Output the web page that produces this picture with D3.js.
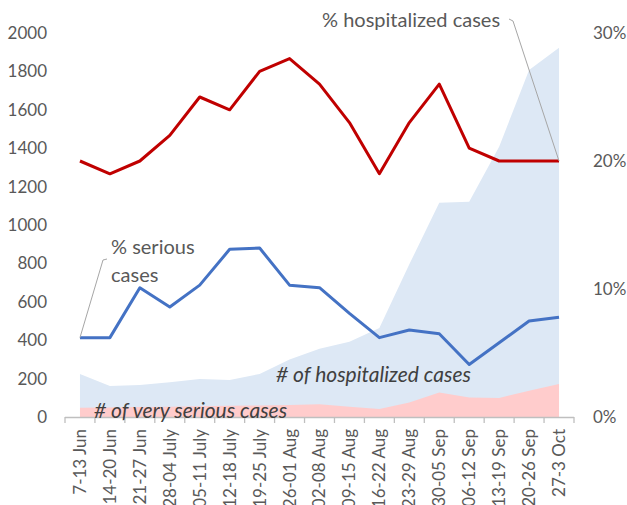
<!DOCTYPE html>
<html>
<head>
<meta charset="utf-8">
<script src="https://cdn.jsdelivr.net/npm/d3@7"></script>
<style>
  body { margin: 0; background: #fff; }
  svg { font-family: Lato, "Open Sans", sans-serif; }
  .tick text { fill: #595959; }
</style>
</head>
<body>
<script>
// weekly categories
var weeks = ["7-13 Jun", "14-20 Jun", "21-27 Jun", "28-04 July", "05-11 July", "12-18 July",
  "19-25 July", "26-01 Aug", "02-08 Aug", "09-15 Aug", "16-22 Aug", "23-29 Aug",
  "30-05 Sep", "06-12 Sep", "13-19 Sep", "20-26 Sep", "27-3 Oct"];
// counts (left axis)
var hospitalized = [224, 161, 167, 181, 198, 193, 224, 300, 355, 392, 463, 795, 1116, 1121, 1408, 1807, 1923];
var verySerious = [48, 50, 52, 54, 56, 58, 60, 62, 66, 54, 42, 75, 128, 101, 99, 137, 172];
// shares (right axis), percent
var pctHospitalized = [20, 19, 20, 22, 25, 24, 27, 28, 26, 23, 19, 23, 26, 21, 20, 20, 20];
var pctSerious = [6.2, 6.2, 10.1, 8.6, 10.3, 13.1, 13.2, 10.3, 10.1, 8.1, 6.2, 6.8, 6.5, 4.1, 5.8, 7.5, 7.8];
var leftTicks = d3.range(0, 2001, 200);
var rightTicks = [0, 10, 20, 30];

var W = 627, H = 505;
var svg = d3.select("body").append("svg").attr("width", W).attr("height", H);

var x = d3.scaleBand().domain(weeks).range([65, 574]).paddingInner(0).paddingOuter(0);
var cx = function(d){ return x(d) + x.bandwidth() / 2; };
var yL = d3.scaleLinear().domain([0, 2000]).range([417, 33]);
var yR = d3.scaleLinear().domain([0, 30]).range([417, 33]);

// areas
var areaL = function(vals){
  return d3.area()
    .x(function(d, i){ return cx(weeks[i]); })
    .y0(yL(0))
    .y1(function(d){ return yL(d); })(vals);
};
svg.append("path").attr("d", areaL(hospitalized)).attr("fill", "#DDE8F5");
svg.append("path").attr("d", areaL(verySerious)).attr("fill", "#FFCCCC");

// lines
var lineR = d3.line()
  .x(function(d, i){ return cx(weeks[i]); })
  .y(function(d){ return yR(d); });
svg.append("path").attr("d", lineR(pctHospitalized))
  .attr("fill", "none").attr("stroke", "#C00000").attr("stroke-width", 3).attr("stroke-linejoin", "round");
svg.append("path").attr("d", lineR(pctSerious))
  .attr("fill", "none").attr("stroke", "#4472C4").attr("stroke-width", 3).attr("stroke-linejoin", "round");

// left axis
var gl = svg.append("g").attr("transform", "translate(50,0)")
  .call(d3.axisLeft(yL).tickValues(leftTicks).tickSize(0).tickPadding(3).tickFormat(d3.format("d")));
gl.select(".domain").remove();
gl.selectAll("text").attr("font-size", 17).attr("font-family", "Lato, sans-serif");

// right axis
var gr = svg.append("g").attr("transform", "translate(590,0)")
  .call(d3.axisRight(yR).tickValues(rightTicks).tickSize(0).tickPadding(3)
    .tickFormat(function(d){ return d + "%"; }));
gr.select(".domain").remove();
gr.selectAll("text").attr("font-size", 17).attr("font-family", "Lato, sans-serif");

// x axis: line + ticks between categories
svg.append("line").attr("x1", 65).attr("x2", 574).attr("y1", 417.5).attr("y2", 417.5)
  .attr("stroke", "#BFBFBF").attr("stroke-width", 1.3);
var edges = weeks.map(function(d){ return x(d); }).concat([x.range()[1]]);
svg.selectAll("line.xtick").data(edges).enter().append("line").attr("class", "xtick")
  .attr("x1", function(d){ return d; }).attr("x2", function(d){ return d; })
  .attr("y1", 417).attr("y2", 423)
  .attr("stroke", "#BFBFBF").attr("stroke-width", 1.3);
svg.selectAll("text.xlab").data(weeks).enter().append("text").attr("class", "xlab")
  .attr("transform", function(d){ return "translate(" + cx(d) + ",429) rotate(-90)"; })
  .attr("text-anchor", "end").attr("dy", "0.35em")
  .attr("font-size", 17).attr("fill", "#595959")
  .text(function(d){ return d; });

// annotations
var gray = "#A6A6A6";
svg.append("text").attr("x", 322).attr("y", 27).attr("font-size", 20).attr("fill", "#595959")
  .text("% hospitalized cases");
svg.append("polyline")
  .attr("points", [[509, 19], [513, 21], [cx(weeks[16]), yR(pctHospitalized[16])]].join(" "))
  .attr("fill", "none").attr("stroke", gray).attr("stroke-width", 1);

svg.append("text").attr("x", 111).attr("y", 254).attr("font-size", 20).attr("fill", "#595959")
  .text("% serious");
svg.append("text").attr("x", 111).attr("y", 282).attr("font-size", 20).attr("fill", "#595959")
  .text("cases");
svg.append("polyline")
  .attr("points", [[cx(weeks[0]), yR(pctSerious[0])], [103, 260], [107, 259]].join(" "))
  .attr("fill", "none").attr("stroke", gray).attr("stroke-width", 1);

svg.append("text").attr("x", 276).attr("y", 382).attr("font-size", 21).attr("font-style", "italic")
  .attr("fill", "#404040").text("# of hospitalized cases");
svg.append("text").attr("x", 94).attr("y", 418).attr("font-size", 21).attr("font-style", "italic")
  .attr("fill", "#404040").text("# of very serious cases");
</script>
</body>
</html>
